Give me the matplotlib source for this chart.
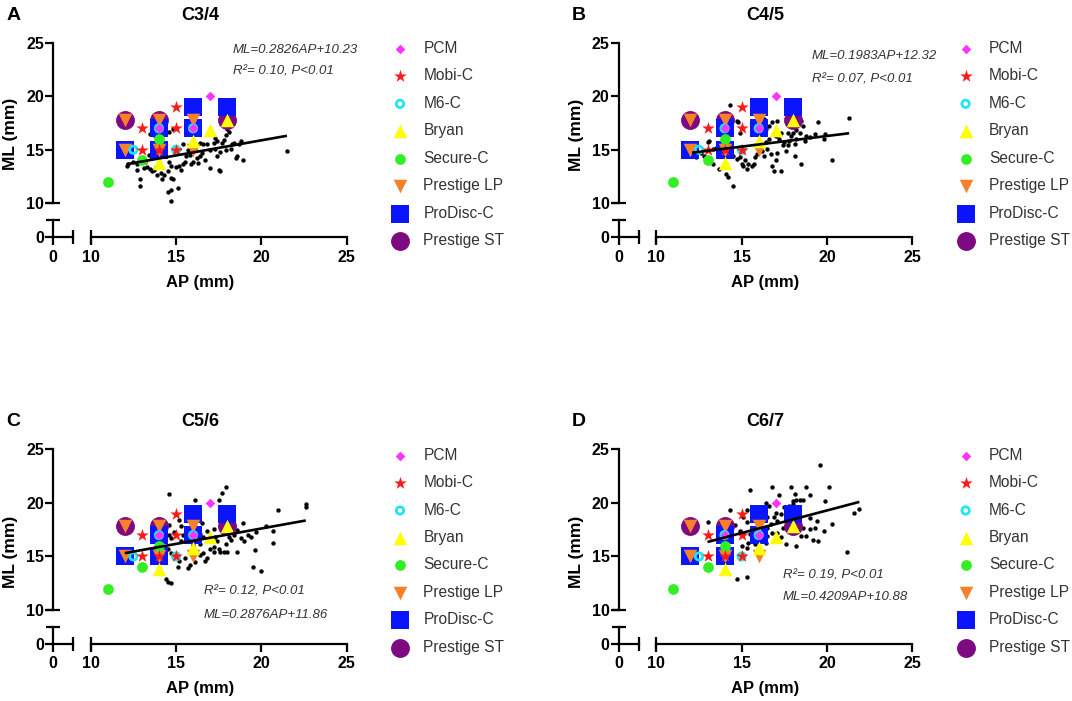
import numpy as np
import matplotlib
matplotlib.use('Agg')
import matplotlib.pyplot as plt

W, H = 1072, 701
PT = 0.72  # points per pixel at dpi 100

plt.rcParams['font.family'] = ['Liberation Sans', 'DejaVu Sans']

dots_c34 = [
    (12.1, 13.5), (12.2, 13.7), (12.7, 13.1), (12.9, 12.3), (12.9, 11.6), (13.1, 13.3),
    (13.3, 13.4), (13.5, 13.2), (13.6, 13.0), (13.7, 13.1), (13.8, 13.4), (13.9, 12.6),
    (14.1, 12.8), (14.2, 12.3), (14.3, 12.6), (14.5, 13.0), (14.6, 13.9), (14.7, 13.5),
    (14.7, 12.4), (14.8, 12.3), (14.5, 11.1), (14.7, 11.2), (15.1, 11.4), (14.7, 10.2),
    (15.0, 13.4), (15.2, 13.5), (15.3, 13.1), (15.4, 13.7), (15.5, 13.9), (15.6, 14.4),
    (15.8, 14.5), (15.9, 13.7), (16.0, 13.9), (16.2, 14.2), (16.3, 13.8), (16.4, 14.4),
    (16.5, 14.7), (16.6, 15.5), (16.7, 14.0), (16.8, 15.5), (17.0, 13.3), (17.2, 15.6),
    (17.3, 15.1), (17.4, 15.8), (17.4, 14.4), (17.5, 13.1), (17.6, 13.0), (17.7, 15.6),
    (17.8, 15.9), (17.9, 16.4), (18.0, 16.9), (18.1, 16.7), (18.2, 15.1), (18.3, 15.5),
    (18.4, 15.6), (18.5, 14.2), (18.6, 14.4), (18.7, 15.5), (18.8, 15.8), (18.9, 14.0),
    (13.5, 16.5), (13.7, 16.4), (14.3, 16.5), (14.6, 16.7), (14.8, 16.9), (13.4, 14.5),
    (13.7, 14.4), (15.2, 15.1), (15.4, 15.5), (16.4, 15.6), (12.5, 13.9), (12.7, 13.7),
    (13.2, 13.9), (14.0, 13.9), (14.1, 14.4), (15.7, 15.0), (16.1, 15.1), (17.0, 15.0),
    (17.6, 14.8), (17.9, 15.0), (17.3, 16.1), (21.5, 14.9),
]
dots_c45 = [
    (14.3, 19.2), (14.7, 17.7), (14.8, 17.6), (14.9, 16.6), (13.0, 15.7), (13.1, 15.8),
    (13.3, 15.1), (13.5, 15.2), (12.3, 14.3), (12.6, 14.7), (12.8, 14.4), (13.1, 14.0),
    (13.3, 13.7), (13.7, 13.2), (14.1, 12.7), (14.2, 12.5), (14.5, 11.6), (14.0, 15.4),
    (14.2, 14.9), (14.3, 14.6), (14.5, 14.4), (14.7, 14.1), (14.9, 14.3), (15.0, 13.7),
    (15.1, 13.5), (15.2, 14.0), (15.3, 13.2), (15.4, 13.7), (15.6, 13.5), (15.7, 13.7),
    (15.8, 14.3), (15.9, 14.6), (16.0, 15.1), (16.1, 15.4), (16.2, 14.9), (16.3, 14.4),
    (16.4, 15.7), (16.5, 15.1), (16.6, 16.0), (16.7, 14.6), (16.8, 13.5), (16.9, 13.0),
    (17.0, 14.0), (17.1, 14.7), (17.2, 16.0), (17.3, 13.0), (17.4, 15.4), (17.5, 15.7),
    (17.6, 14.9), (17.7, 15.4), (17.8, 15.8), (17.9, 16.3), (18.0, 16.6), (18.1, 14.4),
    (18.1, 15.5), (18.2, 16.0), (18.4, 16.6), (18.5, 17.7), (18.5, 13.7), (18.6, 17.2),
    (18.7, 15.8), (18.8, 16.3), (19.0, 16.2), (19.3, 16.5), (19.5, 17.6), (19.8, 16.0),
    (19.9, 16.5), (20.3, 14.0), (21.3, 18.0), (16.3, 17.9), (16.1, 17.2), (16.4, 16.9),
    (16.6, 17.2), (16.8, 17.6), (17.0, 16.3), (17.3, 16.6), (17.7, 16.6), (18.2, 16.8),
    (17.1, 17.7),
]
dots_c56 = [
    (14.6, 20.8), (16.1, 20.3), (17.7, 20.9), (17.9, 21.5), (17.5, 20.3), (21.0, 19.3),
    (22.6, 19.9), (22.6, 19.6), (20.7, 17.4), (20.7, 16.3), (19.5, 14.0), (20.0, 13.6),
    (14.4, 12.9), (14.7, 12.5), (14.5, 12.6), (15.1, 14.0), (15.7, 13.9), (15.8, 14.2),
    (16.1, 14.5), (15.2, 18.4), (14.6, 17.9), (14.7, 16.7), (14.6, 17.0), (14.9, 17.3),
    (15.3, 17.8), (15.4, 17.0), (15.3, 16.4), (15.6, 16.5), (16.4, 17.1), (16.6, 16.8),
    (16.8, 17.4), (17.0, 16.5), (17.2, 15.9), (17.3, 16.8), (17.4, 16.4), (17.5, 15.7),
    (17.6, 15.4), (17.8, 15.4), (17.9, 16.2), (18.0, 15.4), (18.1, 16.8), (18.2, 16.5),
    (18.4, 17.0), (18.6, 15.4), (18.8, 16.7), (18.9, 18.1), (19.0, 16.4), (19.2, 17.0),
    (19.4, 16.8), (19.6, 15.6), (19.7, 17.3), (20.3, 17.8), (16.4, 15.1), (16.6, 15.3),
    (16.8, 14.9), (17.0, 15.7), (17.2, 15.4), (16.4, 16.2), (16.0, 16.1), (16.2, 16.7),
    (15.8, 16.7), (18.6, 17.5), (18.3, 17.8), (15.2, 14.6), (15.5, 14.9), (14.7, 15.3),
    (14.5, 15.7), (16.7, 14.6), (16.5, 18.1), (17.2, 17.6),
]
dots_c67 = [
    (19.6, 23.5), (16.8, 21.5), (17.9, 21.5), (18.8, 21.5), (20.1, 21.5), (15.5, 21.2),
    (17.2, 20.7), (18.1, 20.8), (19.0, 20.7), (18.2, 20.3), (18.4, 20.3), (18.6, 20.3),
    (18.0, 20.2), (16.4, 20.0), (16.6, 19.7), (16.2, 19.4), (17.5, 19.6), (17.8, 19.7),
    (18.0, 19.9), (14.3, 19.3), (15.3, 19.3), (17.0, 19.1), (17.3, 19.0), (16.9, 18.7),
    (17.1, 18.3), (16.5, 18.7), (16.7, 18.0), (15.1, 18.7), (15.3, 18.2), (13.0, 18.2),
    (14.2, 18.2), (14.6, 17.9), (14.9, 17.4), (15.1, 17.1), (15.5, 17.1), (15.7, 16.6),
    (15.0, 16.0), (15.3, 15.8), (15.4, 16.3), (15.8, 16.2), (16.1, 16.5), (16.4, 16.3),
    (16.5, 16.9), (16.8, 17.2), (17.4, 17.7), (17.7, 17.6), (18.2, 17.4), (18.6, 17.7),
    (19.0, 17.6), (19.3, 17.7), (19.8, 17.4), (20.3, 18.0), (19.2, 16.5), (19.5, 16.4),
    (18.8, 16.9), (18.5, 16.9), (17.6, 16.2), (18.2, 16.0), (21.2, 15.4), (21.6, 19.1),
    (21.9, 19.4), (14.7, 12.9), (15.3, 13.1), (14.0, 15.8), (14.3, 16.6), (13.6, 17.4),
    (15.9, 17.7), (16.1, 18.2), (16.5, 17.7), (17.1, 17.2), (17.3, 16.8), (19.9, 20.2),
    (19.0, 18.6), (19.4, 18.3), (18.1, 18.2),
]

# regression fits as printed, and the AP span of each fitted line
fit_slope = [0.2826, 0.1983, 0.2876, 0.4209]
fit_icpt = [10.23, 12.32, 11.86, 10.88]
fit_span = [(12.1, 21.5), (12.1, 21.3), (12.0, 22.6), (13.0, 21.9)]
eq_labels = ['ML=0.2826AP+10.23', 'ML=0.1983AP+12.32', 'ML=0.2876AP+11.86', 'ML=0.4209AP+10.88']
r2_labels = ['R\u00b2= 0.10, P<0.01', 'R\u00b2= 0.07, P<0.01', 'R\u00b2= 0.12, P<0.01', 'R\u00b2= 0.19, P<0.01']
titles = ['C3/4', 'C4/5', 'C5/6', 'C6/7']
letters = ['A', 'B', 'C', 'D']

# ---- prosthesis footprints (AP, ML), same in every panel ----
pcm_ap, pcm_ml = [14, 16, 17], [17, 17, 20]
mobi_ap, mobi_ml = [13, 13, 14, 15, 15, 15], [15, 17, 15, 15, 17, 19]
m6_ap, m6_ml = [12.5, 14, 15, 16], [15, 17, 15, 17]
bryan_ap, bryan_ml = [14, 16, 17, 18], [13.8, 15.8, 16.8, 17.8]
secure_ap, secure_ml = [11, 13, 14], [12, 14, 16]
lp_ap, lp_ml = [12, 12, 14, 14, 16, 16], [15, 17.8, 15, 17.8, 15, 17.8]
prodisc_ap, prodisc_ml = [12, 14, 14, 16, 16, 18], [15, 15, 17, 17, 19, 19]
st_ap, st_ml = [12, 14, 18], [17.8, 17.8, 17.8]

implant_names = ['PCM', 'Mobi-C', 'M6-C', 'Bryan', 'Secure-C', 'Prestige LP', 'ProDisc-C', 'Prestige ST']
implant_ap = [pcm_ap, mobi_ap, m6_ap, bryan_ap, secure_ap, lp_ap, prodisc_ap, st_ap]
implant_ml = [pcm_ml, mobi_ml, m6_ml, bryan_ml, secure_ml, lp_ml, prodisc_ml, st_ml]
implant_style = [
    dict(marker='D', s=24, color='#ff33ff', linewidths=0),
    dict(marker='*', s=90, color='#ff1a1a', linewidths=0),
    dict(marker='o', s=28, facecolors='none', edgecolors='#22e4f4', linewidths=2.0),
    dict(marker='^', s=95, color='#ffff00', linewidths=0),
    dict(marker='o', s=60, color='#33ee22', linewidths=0),
    dict(marker='v', s=95, color='#f7802a', linewidths=0),
    dict(marker='s', s=160, color='#0a14ff', linewidths=0),
    dict(marker='o', s=185, color='#7d0a80', linewidths=0),
]

fig = plt.figure(figsize=(W / 100, H / 100), dpi=100)


def rect(x0, y0, x1, y1):
    return [x0 / W, 1 - y1 / H, (x1 - x0) / W, (y1 - y0) / H]


def ftext(x, y, s, **kw):
    fig.text(x / W, 1 - y / H, s, **kw)


TICK = dict(fontsize=11.5, fontweight='bold')


def style_ticks(ax):
    ax.set_facecolor('none')
    for s in ['top', 'right']:
        ax.spines[s].set_visible(False)
    for s in ['left', 'bottom']:
        ax.spines[s].set_linewidth(1.6)
    ax.xaxis.remove_overlapping_locs = False
    ax.yaxis.remove_overlapping_locs = False
    ax.tick_params(which='major', direction='out', length=5.5, width=1.6)
    ax.tick_params(which='minor', direction='inout', length=9.5, width=1.6)
    ax.tick_params(axis='x', which='major', pad=3.5)
    ax.tick_params(axis='y', which='major', pad=1)


def panel(i, ox, oy, ylab_y, eq_xy, r2_xy):
    ax = fig.add_axes(rect(ox + 90.7, oy + 42.7, ox + 346.7, oy + 203.3))
    ax.set_xlim(10, 25)
    ax.set_ylim(10, 25)
    style_ticks(ax)
    ax.spines['left'].set_position(('outward', (90.7 - 53) * PT))
    ax.spines['bottom'].set_position(('outward', (237.3 - 203.3) * PT))
    ticks = [10, 15, 20, 25]
    ax.set_xticks(ticks, labels=[str(t) for t in ticks], **TICK)
    ax.set_yticks(ticks, labels=[str(t) for t in ticks], **TICK)
    ax.set_xticks([10], minor=True)
    ax.set_yticks([10], minor=True)

    dots = np.array([dots_c34, dots_c45, dots_c56, dots_c67][i])
    ax.scatter(dots[:, 0], dots[:, 1], s=10, color='black', linewidths=0, zorder=2)

    handles = [None] * len(implant_names)
    for k in reversed(range(len(implant_names))):
        handles[k] = ax.scatter(implant_ap[k], implant_ml[k], zorder=3, **implant_style[k])

    lx = np.array(fit_span[i])
    ax.plot(lx, fit_slope[i] * lx + fit_icpt[i], color='black', lw=1.9, zorder=5,
            solid_capstyle='butt')

    ax.legend(handles, implant_names, loc='upper left',
              bbox_to_anchor=((ox + 392) / W, 1 - (oy + 41) / H),
              bbox_transform=fig.transFigure, frameon=False, fontsize=11.2,
              labelspacing=0.80, handlelength=1.03, handletextpad=0.98,
              borderpad=0, borderaxespad=0, scatterpoints=1, labelcolor='#333333')

    # the short 0-segment of the broken axes
    cax = fig.add_axes(rect(ox + 53, oy + 220, ox + 73, oy + 237.3))
    cax.set_xlim(0, 1)
    cax.set_ylim(0, 1)
    style_ticks(cax)
    cax.set_xticks([0], labels=['0'], **TICK)
    cax.set_yticks([0], labels=['0'], **TICK)
    cax.set_xticks([1], minor=True)
    cax.set_yticks([1], minor=True)

    ftext(ox + 13.5, oy + 15, letters[i], fontsize=14, fontweight='bold', ha='center', va='center')
    ftext(ox + 200, oy + 15, titles[i], fontsize=13, fontweight='bold', ha='center', va='center')
    ftext(ox + 11, ylab_y, 'ML (mm)', fontsize=12.5, fontweight='bold', rotation=90,
          ha='center', va='center')
    ftext(ox + 200, oy + 282, 'AP (mm)', fontsize=12, fontweight='bold', ha='center', va='center')
    ftext(eq_xy[0], eq_xy[1], eq_labels[i], fontsize=9.5, style='italic', color='#333333',
          ha='left', va='center')
    ftext(r2_xy[0], r2_xy[1], r2_labels[i], fontsize=9.5, style='italic', color='#333333',
          ha='left', va='center')


DX, DY = 565.6, 406.7
panel(0, 0, 0, 134, (233, 50), (233, 72))
panel(1, DX, 0, 135, (812, 56), (812, 80))
panel(2, 0, DY, 552, (204, 615), (204, 592))
panel(3, DX, DY, 552, (783, 597), (783, 575))

fig.savefig('out.png', dpi=100)
